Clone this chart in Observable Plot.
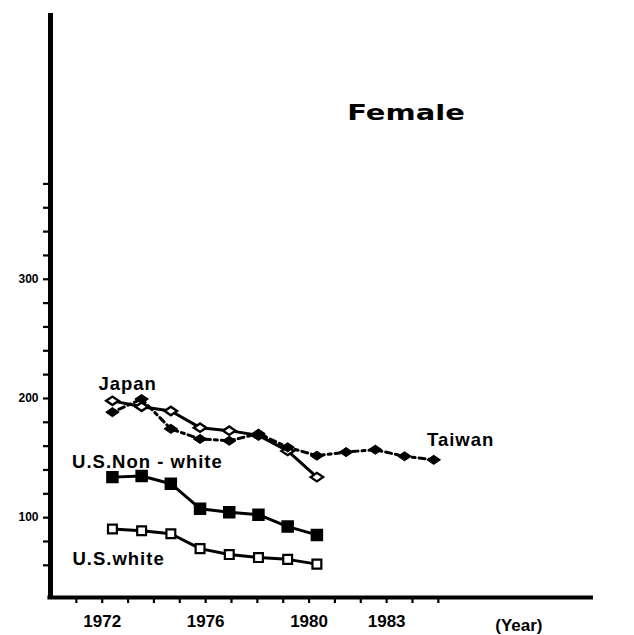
<!DOCTYPE html>
<html><head><meta charset="utf-8">
<script src="https://cdn.jsdelivr.net/npm/d3@7"></script>
<script src="https://cdn.jsdelivr.net/npm/@observablehq/plot@0.6"></script>
<style>
html,body{margin:0;padding:0;background:#fff;}
#wrap{position:relative;width:634px;height:635px;overflow:hidden;}
#wrap svg{position:absolute;left:0;top:0;}
#title{position:absolute;z-index:3;left:406px;top:113px;font-family:"DejaVu Sans";font-weight:bold;font-size:21px;line-height:1;color:#000;white-space:nowrap;transform:translate(-50%,-50%) scaleX(1.38);}
</style></head>
<body><div id="wrap"><div id="title">Female</div></div>
<script>
// ---- data ----
const years = [1972, 1973, 1974, 1975, 1976, 1977, 1978, 1979];
const yearsTaiwan = [1972, 1973, 1974, 1975, 1976, 1977, 1978, 1979, 1980, 1981, 1982, 1983];
const japan = [198, 193, 189.5, 175.5, 173, 169, 156, 134];
const taiwan = [188.5, 199.5, 174.5, 166, 164.5, 170.5, 159, 152, 155, 157, 151.5, 148.5];
const usNonWhite = [134, 135, 128.5, 107.5, 104.5, 102.5, 92.5, 85.5];
const usWhite = [90.5, 89, 86.5, 74, 69, 66.5, 65, 61];

const yTickValues = [60, 80, 100, 120, 140, 160, 180, 200, 220, 240, 260, 280, 300, 320, 340, 360, 380];
const yTickLabels = [100, 200, 300];
const xTickValues = [1971, 1972, 1973, 1974, 1975, 1976, 1977, 1978, 1979, 1980, 1981, 1982, 1983, 1984, 1985];
const xTickLabels = [1972, 1976, 1980, 1983];
const xAxisTitle = "(Year)";
const chartTitle = "Female";

const seriesNames = ["Japan", "Taiwan", "U.S.Non - white", "U.S.white"];
const labelYears = [1971.52, 1982.77, 1970.62, 1970.63];
const labelValues = [211.8, 164.7, 147, 65];

// ---- tables ----
const toRows = (xs, vs) => xs.map((x, i) => ({year: x, v: vs[i]}));
const japanData = toRows(years, japan);
const taiwanData = toRows(yearsTaiwan, taiwan);
const nonWhiteData = toRows(years, usNonWhite);
const whiteData = toRows(years, usWhite);
const labels = seriesNames.map((t, i) => ({t, x: labelYears[i], y: labelValues[i]}));

const W = 634, H = 635;
const M = {marginTop: 13, marginRight: 41, marginBottom: 38, marginLeft: 50};
const yDomain = [33, 523];

const wideDiamond = {
  draw(ctx, size) {
    const r = Math.sqrt(size / Math.PI);
    ctx.moveTo(-1.25 * r, 0);
    ctx.lineTo(0, -0.85 * r);
    ctx.lineTo(1.25 * r, 0);
    ctx.lineTo(0, 0.85 * r);
    ctx.closePath();
  }
};

// axis frame (printed axis has its own year spacing)
const axisPlot = Plot.plot({
  width: W, height: H, ...M,
  x: {domain: [1970, 1991]},
  y: {domain: yDomain},
  style: {background: "transparent", fontFamily: "Liberation Sans", fontWeight: "bold", color: "#000"},
  marks: [
    Plot.axisY({ticks: yTickValues, tickSize: 7, tickPadding: 5, strokeWidth: 2.2,
      tickFormat: d => yTickLabels.includes(d) ? String(d) : "", fontSize: 12, label: null}),
    Plot.axisX({ticks: xTickValues, tickSize: 6, tickPadding: 11, strokeWidth: 2.2,
      tickFormat: d => xTickLabels.includes(d) ? String(d) : "", fontSize: 17, label: null}),
    Plot.ruleX([1970], {strokeWidth: 5, stroke: "#000"}),
    Plot.ruleY([yDomain[0]], {strokeWidth: 4, stroke: "#000", x1: 1969.9, x2: 1991}),
    Plot.text([{t: xAxisTitle, x: 1987.2}], {x: "x", text: "t", frameAnchor: "bottom", dy: 28,
      textAnchor: "start", fontSize: 17, lineAnchor: "middle"})
  ]
});

// data layer
const dataPlot = Plot.plot({
  width: W, height: H, ...M,
  x: {domain: [1969.88, 1988.47], axis: null},
  y: {domain: yDomain, axis: null},
  style: {background: "transparent", fontFamily: "Liberation Sans", fontWeight: "bold", color: "#000", letterSpacing: "1px"},
  marks: [
    Plot.line(taiwanData, {x: "year", y: "v", stroke: "#000", strokeWidth: 3, strokeDasharray: "3,4,6,4"}),
    Plot.line(japanData, {x: "year", y: "v", stroke: "#000", strokeWidth: 3}),
    Plot.line(nonWhiteData, {x: "year", y: "v", stroke: "#000", strokeWidth: 3}),
    Plot.line(whiteData, {x: "year", y: "v", stroke: "#000", strokeWidth: 3}),
    Plot.dot(japanData, {x: "year", y: "v", symbol: wideDiamond, r: 5, fill: "#fff", stroke: "#000", strokeWidth: 2.4}),
    Plot.dot(taiwanData, {x: "year", y: "v", symbol: wideDiamond, r: 5.4, fill: "#000", stroke: "#000", strokeWidth: 1}),
    Plot.dot(nonWhiteData, {x: "year", y: "v", symbol: "square", r: 6.2, fill: "#000", stroke: "#000"}),
    Plot.dot(whiteData, {x: "year", y: "v", symbol: "square", r: 5, fill: "#fff", stroke: "#000", strokeWidth: 2.2}),
    Plot.text(labels, {x: "x", y: "y", text: "t", textAnchor: "start", lineAnchor: "middle", fontSize: 18.5})
  ]
});

const wrap = document.getElementById("wrap");
wrap.insertBefore(axisPlot, wrap.firstChild);
wrap.insertBefore(dataPlot, document.getElementById("title"));
</script>
</body></html>
